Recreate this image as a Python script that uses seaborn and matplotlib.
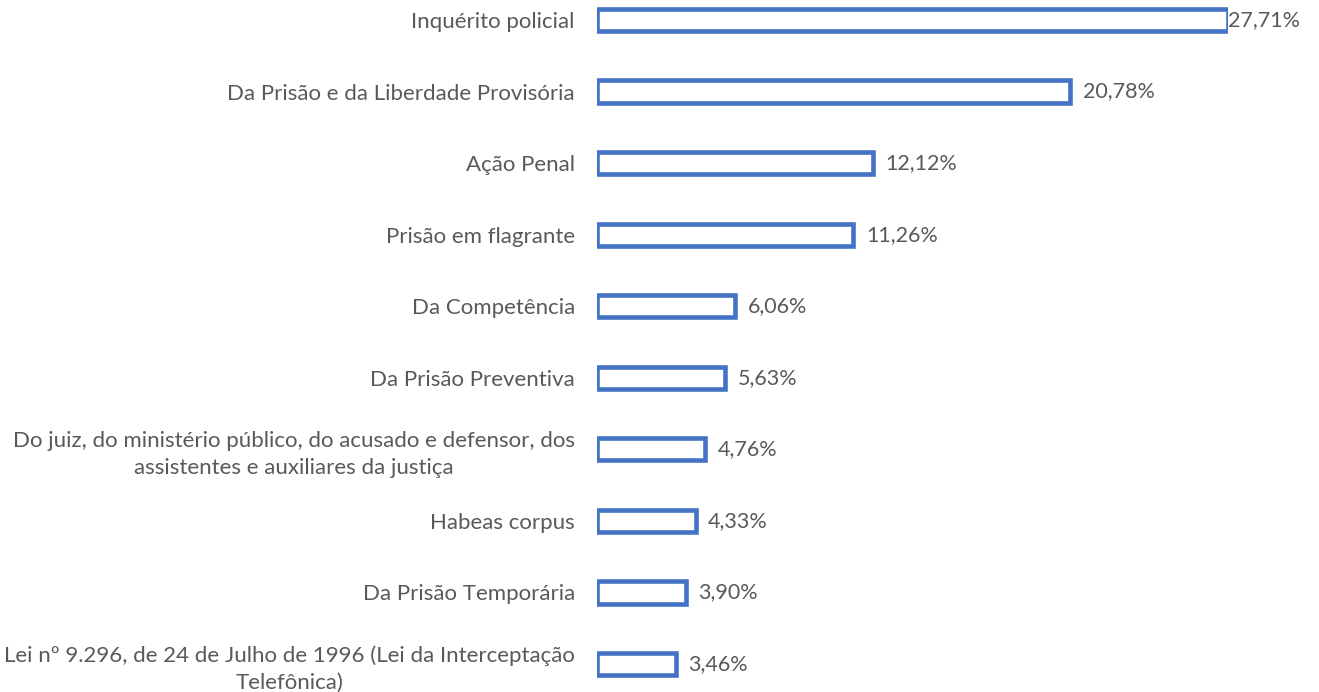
import matplotlib
matplotlib.use("Agg")
import matplotlib.pyplot as plt
import seaborn as sns

# dados
categorias = [
    "Inquérito policial",
    "Da Prisão e da Liberdade Provisória",
    "Ação Penal",
    "Prisão em flagrante",
    "Da Competência",
    "Da Prisão Preventiva",
    "Do juiz, do ministério público, do acusado e defensor, dos\nassistentes e auxiliares da justiça",
    "Habeas corpus",
    "Da Prisão Temporária",
    "Lei nº 9.296, de 24 de Julho de 1996 (Lei da Interceptação\nTelefônica)",
]
valores = [27.71, 20.78, 12.12, 11.26, 6.06, 5.63, 4.76, 4.33, 3.90, 3.46]
rotulos = ["27,71%", "20,78%", "12,12%", "11,26%", "6,06%", "5,63%", "4,76%", "4,33%", "3,90%", "3,46%"]

sns.set_style("white")
plt.rcParams["font.family"] = ["Lato", "DejaVu Sans"]

azul = "#4472C4"
cinza = "#595959"

fig = plt.figure(figsize=(13.19, 6.92), dpi=100)
ax = fig.add_axes([597 / 1319, 0, (1228 - 597) / 1319, 1])

sns.barplot(x=valores, y=categorias, orient="h", fill=False, color=azul,
            linewidth=3.3, width=0.31, ax=ax)

ax.set_xlim(0, 27.71)
ax.set_ylim(9.391, -0.2795)
ax.set_xlabel("")
ax.set_ylabel("")
ax.set_xticks([])
ax.tick_params(axis="y", length=0, pad=16, labelsize=16, labelcolor=cinza)
for t in ax.get_yticklabels():
    t.set_multialignment("center")
    t.set_linespacing(1.4)
sns.despine(ax=ax, left=True, bottom=True)

for i, (v, r) in enumerate(zip(valores, rotulos)):
    off = 0.0 if i == 0 else 0.55
    ax.text(v + off, i, r, va="center", ha="left", fontsize=15.5,
            color=cinza, clip_on=False)

fig.savefig("out.png", dpi=100)
